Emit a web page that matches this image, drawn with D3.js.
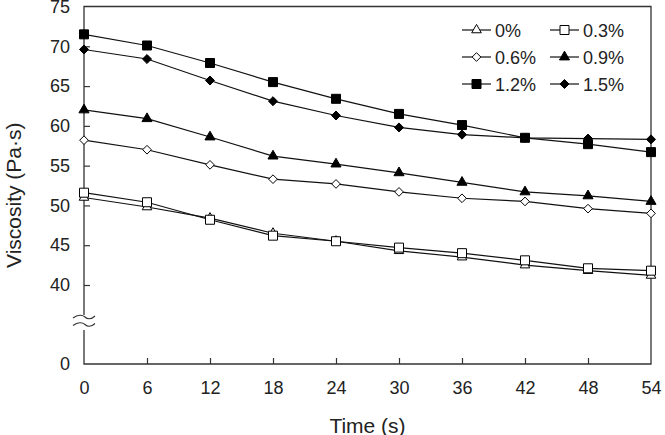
<!DOCTYPE html>
<html>
<head>
<meta charset="utf-8">
<script src="https://cdn.jsdelivr.net/npm/d3@7"></script>
<style>
	body { margin: 0; background: #fff; }
	svg text { font-family: Arial, "Liberation Sans", sans-serif; fill: #222; }
</style>
</head>
<body>
<div id="chart"></div>
<script>
// DATA
const times = [0, 6, 12, 18, 24, 30, 36, 42, 48, 54];
const yTicks = [0, 40, 45, 50, 55, 60, 65, 70, 75];
const seriesNames = ["0%", "0.3%", "0.6%", "0.9%", "1.2%", "1.5%"];
const v00 = [51.0, 49.8, 48.4, 46.5, 45.5, 44.3, 43.5, 42.5, 41.8, 41.2];
const v03 = [51.6, 50.4, 48.2, 46.2, 45.5, 44.7, 44.0, 43.1, 42.1, 41.8];
const v06 = [58.2, 57.0, 55.1, 53.3, 52.7, 51.7, 50.9, 50.5, 49.6, 49.0];
const v09 = [62.0, 60.9, 58.6, 56.2, 55.2, 54.1, 52.9, 51.7, 51.2, 50.5];
const v12 = [71.5, 70.1, 67.9, 65.5, 63.4, 61.5, 60.1, 58.5, 57.7, 56.7];
const v15 = [69.6, 68.4, 65.7, 63.1, 61.3, 59.8, 58.9, 58.5, 58.4, 58.3];


// a square standing on its corner
const diamond = {
	draw(ctx, size) {
		const r = Math.sqrt(size) * 0.62625;
		ctx.moveTo(0, -r);
		ctx.lineTo(r, 0);
		ctx.lineTo(0, r);
		ctx.lineTo(-r, 0);
		ctx.closePath();
	}
};

// marker style for each series
const markers = [
	{ type: d3.symbolTriangle, size: 40, fill: "#fff" },
	{ type: d3.symbolSquare,   size: 81, fill: "#fff" },
	{ type: diamond,           size: 48, fill: "#fff" },
	{ type: d3.symbolTriangle, size: 44, fill: "#000" },
	{ type: d3.symbolSquare,   size: 81, fill: "#000" },
	{ type: diamond,           size: 52, fill: "#000" }
];
const series = [v00, v03, v06, v09, v12, v15].map((vals, i) => ({
	name: seriesNames[i],
	marker: markers[i],
	points: vals.map((v, j) => ({ t: times[j], v: v }))
}));


// SVG DIMENSIONS
const width = 665;
const height = 435;
const svg = d3.select("#chart")
	.append("svg")
	.attr("width", width)
	.attr("height", height);

// SCALES: y is broken between 0 and 40
const x = d3.scaleLinear().domain([0, 54]).range([84, 651]);
const y = d3.scaleLinear().domain([0, 40, 75]).range([364, 285, 6.5]);

const x0 = x.range()[0], x1 = x.range()[1];
const yTop = y(75), yBot = y(0);


// AXES (inner ticks, domain drawn by the frame)
const xAxis = d3.axisBottom(x)
	.tickValues(times)
	.tickSizeInner(-6)
	.tickSizeOuter(0)
	.tickPadding(17);
const yAxis = d3.axisLeft(y)
	.tickValues(yTicks)
	.tickSizeInner(-6)
	.tickSizeOuter(0)
	.tickPadding(14);

const gx = svg.append("g")
	.attr("transform", `translate(0,${yBot})`)
	.call(xAxis);
const gy = svg.append("g")
	.attr("transform", `translate(${x0},0)`)
	.call(yAxis);

[gx, gy].forEach(g => {
	g.select(".domain").remove();
	g.selectAll(".tick line").attr("stroke", "#333").attr("stroke-width", 1.2);
	g.selectAll(".tick text")
		.attr("font-size", 18)
		.attr("font-family", "Arial, 'Liberation Sans', sans-serif")
		.attr("fill", "#222");
});
// no inner tick at the edges
gx.selectAll(".tick").filter(d => d === 0 || d === 54).select("line").remove();
gy.selectAll(".tick").filter(d => d === 0 || d === 75).select("line").remove();


// FRAME with a gap for the axis break
const gapTop = 315, gapBot = 330;
const frame = d3.path();
frame.moveTo(x0, gapTop);
frame.lineTo(x0, yTop);
frame.lineTo(x1, yTop);
frame.lineTo(x1, yBot);
frame.lineTo(x0, yBot);
frame.lineTo(x0, gapBot);
svg.append("path")
	.attr("d", frame.toString())
	.attr("fill", "none")
	.attr("stroke", "#333")
	.attr("stroke-width", 1.3);

// break marks
[317, 324.5].forEach(yy => {
	const p = d3.path();
	p.moveTo(x0 - 11, yy + 1);
	p.bezierCurveTo(x0 - 5, yy - 4, x0 + 0, yy - 1, x0 + 1, yy);
	p.bezierCurveTo(x0 + 3, yy + 2, x0 + 7, yy + 3, x0 + 11, yy - 1);
	svg.append("path")
		.attr("d", p.toString())
		.attr("fill", "none")
		.attr("stroke", "#333")
		.attr("stroke-width", 1.1);
});


// LINES & MARKERS
const line = d3.line().x(d => x(d.t)).y(d => y(d.v));

const gSeries = svg.append("g")
	.selectAll("g")
	.data(series)
	.enter()
	.append("g");

gSeries.append("path")
	.attr("d", d => line(d.points))
	.attr("fill", "none")
	.attr("stroke", "#111")
	.attr("stroke-width", 1.2);

gSeries.each(function(s) {
	d3.select(this)
		.selectAll("path.pt")
		.data(s.points)
		.enter()
		.append("path")
			.attr("class", "pt")
			.attr("transform", d => `translate(${x(d.t)},${y(d.v)})`)
			.attr("d", d3.symbol().type(s.marker.type).size(s.marker.size))
			.attr("fill", s.marker.fill)
			.attr("stroke", "#000")
			.attr("stroke-width", 1);
});


// LEGEND (two columns, three rows)
const legend = svg.append("g");
const colX = [462, 550];
const rowY = [30, 57, 84];
series.forEach((s, i) => {
	const lx = colX[i % 2], ly = rowY[Math.floor(i / 2)];
	const g = legend.append("g").attr("transform", `translate(${lx},${ly})`);
	g.append("line")
		.attr("x1", 0).attr("x2", 29)
		.attr("y1", 0).attr("y2", 0)
		.attr("stroke", "#111")
		.attr("stroke-width", 1.2);
	g.append("path")
		.attr("transform", "translate(14.5,0)")
		.attr("d", d3.symbol().type(s.marker.type).size(s.marker.size))
		.attr("fill", s.marker.fill)
		.attr("stroke", "#000");
	g.append("text")
		.attr("x", 33)
		.attr("y", 6.5)
		.attr("font-size", 18)
		.text(s.name);
});


// AXIS TITLES
svg.append("text")
	.attr("x", (x0 + x1) / 2)
	.attr("y", 433)
	.attr("text-anchor", "middle")
	.attr("font-size", 21)
	.text("Time (s)");

svg.append("text")
	.attr("transform", `translate(21,${(yTop + yBot) / 2 + 10}) rotate(-90)`)
	.attr("text-anchor", "middle")
	.attr("font-size", 21)
	.text("Viscosity (Pa·s)");
</script>
</body>
</html>
